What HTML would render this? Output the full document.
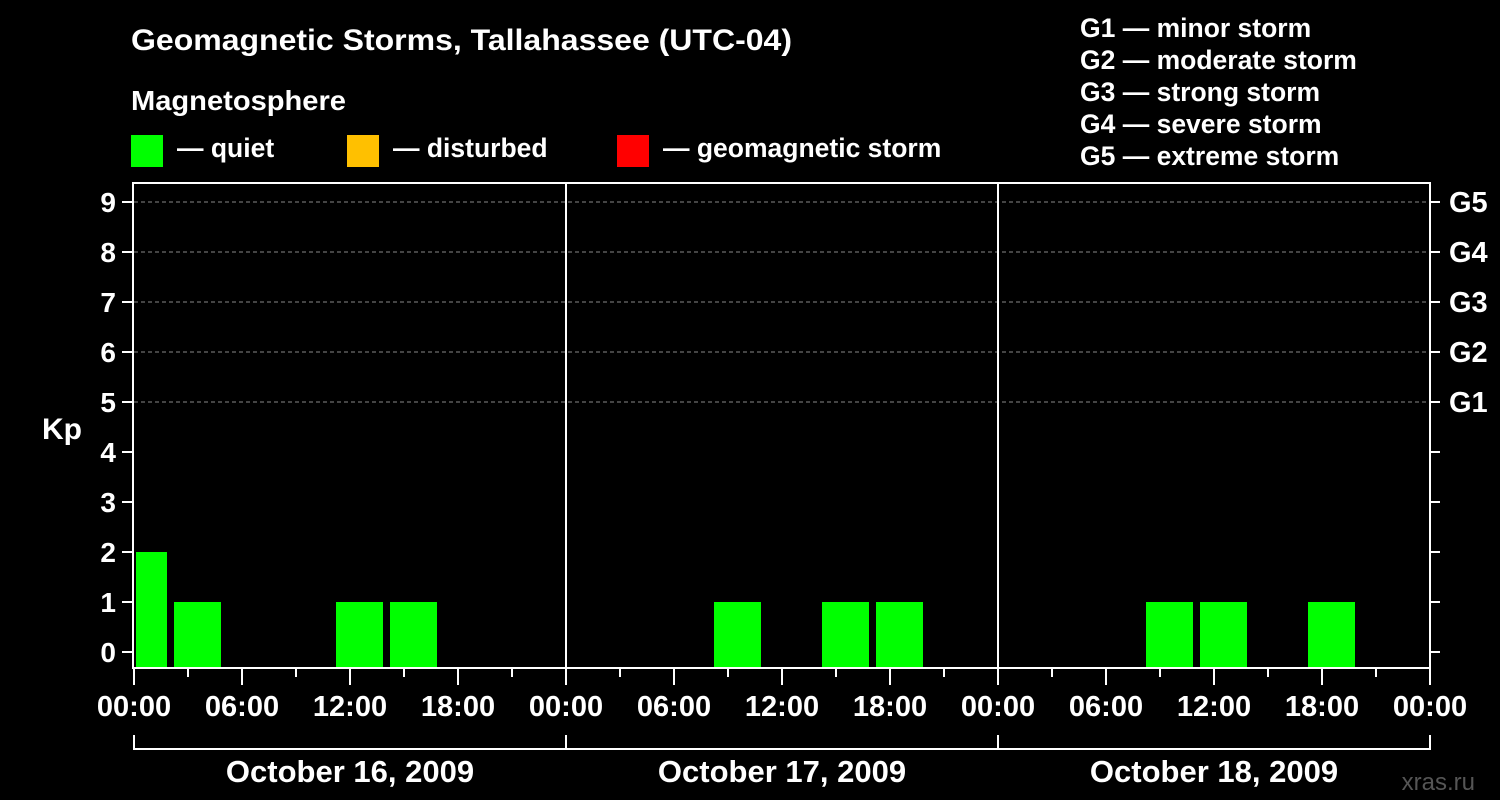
<!DOCTYPE html>
<html><head><meta charset="utf-8"><style>
html,body{margin:0;padding:0;background:#000;}
svg{display:block;font-family:"Liberation Sans",Arial,sans-serif;font-weight:bold;}
</style></head><body>
<svg id="chart" width="1500" height="800" viewBox="0 0 1500 800">
<rect width="1500" height="800" fill="#000"/>
<text x="131" y="50" fill="#fff" font-size="30" textLength="661" lengthAdjust="spacingAndGlyphs">Geomagnetic Storms, Tallahassee (UTC-04)</text>
<text x="131" y="110" fill="#fff" font-size="28" textLength="215" lengthAdjust="spacingAndGlyphs">Magnetosphere</text>
<g><rect x="131" y="135" width="32" height="32" fill="#00ff00"/><text x="177" y="157" fill="#fff" font-size="26.5">— quiet</text></g>
<g><rect x="347" y="135" width="32" height="32" fill="#ffc000"/><text x="393" y="157" fill="#fff" font-size="26.5">— disturbed</text></g>
<g><rect x="617" y="135" width="32" height="32" fill="#ff0000"/><text x="663" y="157" fill="#fff" font-size="26.5">— geomagnetic storm</text></g>
<g fill="#fff" font-size="26.5">
<text x="1080" y="37">G1 — minor storm</text>
<text x="1080" y="69">G2 — moderate storm</text>
<text x="1080" y="101">G3 — strong storm</text>
<text x="1080" y="133">G4 — severe storm</text>
<text x="1080" y="165">G5 — extreme storm</text>
</g>
<text x="42" y="439" fill="#fff" font-size="30">Kp</text>
<text x="1475" y="790" fill="#555" font-size="24" text-anchor="end" font-weight="normal">xras.ru</text>
<g id="plot"></g>
</svg>
<script>
const dayLabels = ["October 16, 2009","October 17, 2009","October 18, 2009"];
const slotStarts = [0,2,5,8,11,14,17,20,23,26,29,32,35,38,41,44,47,50,53,56,59,62,65,68,71];
const slotEnds   = [2,5,8,11,14,17,20,23,26,29,32,35,38,41,44,47,50,53,56,59,62,65,68,71,72];
const kpValues   = [2,1,null,null,1,1,null,null,null,null,null,1,null,1,1,null,null,null,null,1,1,null,1,null,null];
const yTicks = [0,1,2,3,4,5,6,7,8,9];
const gLabels = ["G1","G2","G3","G4","G5"];
const gLevels = [5,6,7,8,9];
const xLabels = ["00:00","06:00","12:00","18:00"];

const X0=134, PX_H=18, YB=668, YT=183, X1=X0+72*PX_H;
const x = h => X0 + h*PX_H;
const y = k => 652 - k*50;
const NS="http://www.w3.org/2000/svg";
const plot=document.getElementById('plot');
function mk(tag, attrs, parent){const e=document.createElementNS(NS,tag);for(const k in attrs)e.setAttribute(k,attrs[k]);(parent||plot).appendChild(e);return e;}

gLevels.forEach(k=>{
  const l=mk('line',{x1:X0,x2:X1,y1:y(k),y2:y(k),stroke:'#888','stroke-dasharray':'4,3','stroke-width':1});
  
  
});
kpValues.forEach((v,i)=>{
  if(v===null) return;
  const xs=x(slotStarts[i]), xe=x(slotEnds[i]);
  const r=mk('rect',{x:xs+(i===0?2:4),y:y(v),width:(xe-xs)-(i===0?5:7),height:YB-y(v),fill:v>=5?'#ff0000':(v>=4?'#ffc000':'#00ff00')});
  
  
});
const fr=mk('rect',{x:X0-1,y:YT,width:X1-X0+1,height:YB-YT,fill:'none',stroke:'#fff','stroke-width':2});


[1,2].forEach(d=>{
  const l=mk('line',{x1:x(d*24),x2:x(d*24),y1:YT,y2:YB,stroke:'#fff','stroke-width':2});
  
  
});
yTicks.forEach(k=>{
  mk('line',{x1:122,x2:X0,y1:y(k),y2:y(k),stroke:'#fff','stroke-width':2});
  mk('line',{x1:X1,x2:X1+10,y1:y(k),y2:y(k),stroke:'#fff','stroke-width':2});
  const t=mk('text',{x:116,y:y(k)+10,fill:'#fff','font-size':28,'text-anchor':'end'});
  t.textContent=k;
  
  
});
gLabels.forEach((g,i)=>{
  const t=mk('text',{x:1449,y:y(gLevels[i])+10,fill:'#fff','font-size':29});
  t.textContent=g;
  
  
});
for(let h=0;h<=72;h+=3){
  const major=h%6===0;
  mk('line',{x1:x(h),x2:x(h),y1:YB,y2:major?685:677,stroke:'#fff','stroke-width':2});
  if(major){
    const t=mk('text',{x:x(h),y:716,fill:'#fff','font-size':29,'text-anchor':'middle'});
    t.textContent=xLabels[(h%24)/6];
    
    
  }
}
mk('line',{x1:x(0),x2:x(72),y1:749,y2:749,stroke:'#fff','stroke-width':2});
for(let d=0;d<=3;d++) mk('line',{x1:x(d*24),x2:x(d*24),y1:735,y2:750,stroke:'#fff','stroke-width':2});
dayLabels.forEach((lab,d)=>{
  const t=mk('text',{x:x(d*24+12),y:782,fill:'#fff','font-size':31,'text-anchor':'middle'});
  t.textContent=lab;
  
  
});
</script>
</body></html>
